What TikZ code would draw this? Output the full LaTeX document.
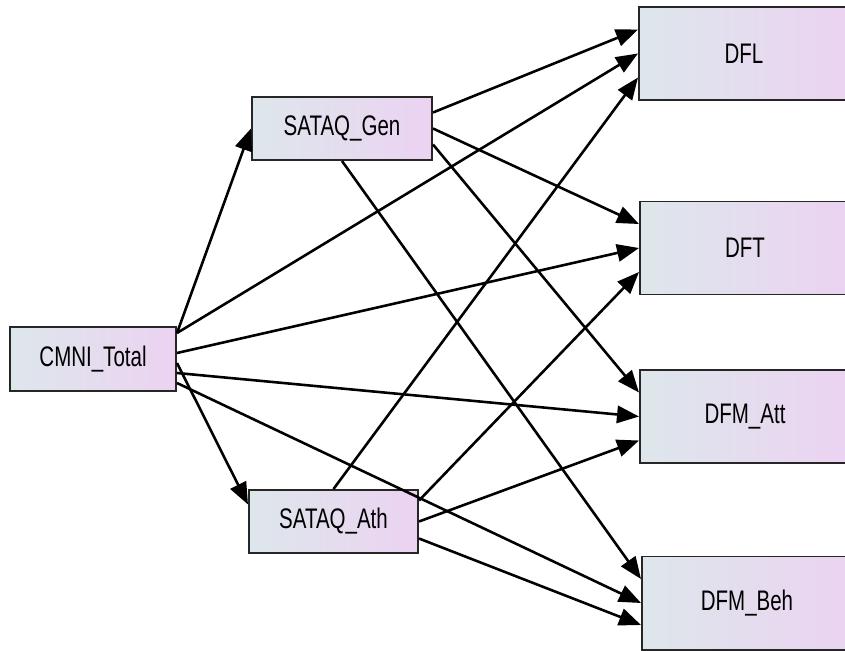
\documentclass[tikz,border=0pt]{standalone}
\usepackage{fontspec}
\setmainfont{Liberation Sans}
\usepackage{graphicx}
\usetikzlibrary{arrows.meta,calc}

\definecolor{boxleft}{HTML}{DDE7EB}
\definecolor{boxright}{HTML}{ECD2F2}
\newcommand{\varname}[1]{\scalebox{1}[1.38]{#1}}

\begin{document}
\begin{tikzpicture}[x=0.03cm,y=-0.03cm,
    varbox/.style={draw=black!85,line width=1.7pt,left color=boxleft,right color=boxright,
      font=\fontsize{17.5}{20}\selectfont,inner sep=0pt},
    effect/.style={line width=2.2pt,black,-{Triangle[length=0.66cm,width=0.52cm]}}]
    \useasboundingbox (0,0) rectangle (845,651);
    % variables
    \node[varbox,minimum width=4.98cm,minimum height=1.92cm] (CMNI) at (93,359) {\varname{CMNI\_Total}};
    \node[varbox,minimum width=5.4cm,minimum height=1.89cm] (Gen) at (342,128.5) {\varname{SATAQ\_Gen}};
    \node[varbox,minimum width=5.07cm,minimum height=1.89cm] (Ath) at (333.5,521.5) {\varname{SATAQ\_Ath}};
    \node[varbox,minimum width=6.3cm,minimum height=2.79cm] (DFL) at (744,53.5) {\varname{DFL}};
    \node[varbox,minimum width=6.3cm,minimum height=2.79cm] (DFT) at (745,248) {\varname{DFT}};
    \node[varbox,minimum width=6.3cm,minimum height=2.79cm] (DFMAtt) at (745,416.5) {\varname{DFM\_Att}};
    \node[varbox,minimum width=6.3cm,minimum height=2.79cm] (DFMBeh) at (747,603) {\varname{DFM\_Beh}};
    % paths
    \draw[effect] ($(CMNI.east)+(0,-26)$) -- (Gen.west);
    \draw[effect] ($(CMNI.east)+(0,4)$) -- ($(Ath.west)+(0,-17)$);
    \draw[effect] ($(CMNI.east)+(0,-26)$) -- (DFL.west);
    \draw[effect] ($(CMNI.east)+(0,-6)$) -- (DFT.west);
    \draw[effect] ($(CMNI.east)+(0,14)$) -- (DFMAtt.west);
    \draw[effect] ($(CMNI.east)+(0,24)$) -- (DFMBeh.west);
    \draw[effect] ($(Gen.east)+(0,-16)$) -- ($(DFL.west)+(0,-24)$);
    \draw[effect] (Gen.east) -- ($(DFT.west)+(0,-24)$);
    \draw[effect] ($(Gen.east)+(0,16)$) -- ($(DFMAtt.west)+(0,-24)$);
    \draw[effect] (Gen.south) -- ($(DFMBeh.west)+(0,-24)$);
    \draw[effect] (Ath.north) -- ($(DFL.west)+(0,24)$);
    \draw[effect] ($(Ath.east)+(0,-21)$) -- ($(DFT.west)+(0,24)$);
    \draw[effect] (Ath.east) -- ($(DFMAtt.west)+(0,24)$);
    \draw[effect] ($(Ath.east)+(0,17)$) -- ($(DFMBeh.west)+(0,22)$);
\end{tikzpicture}
\end{document}
